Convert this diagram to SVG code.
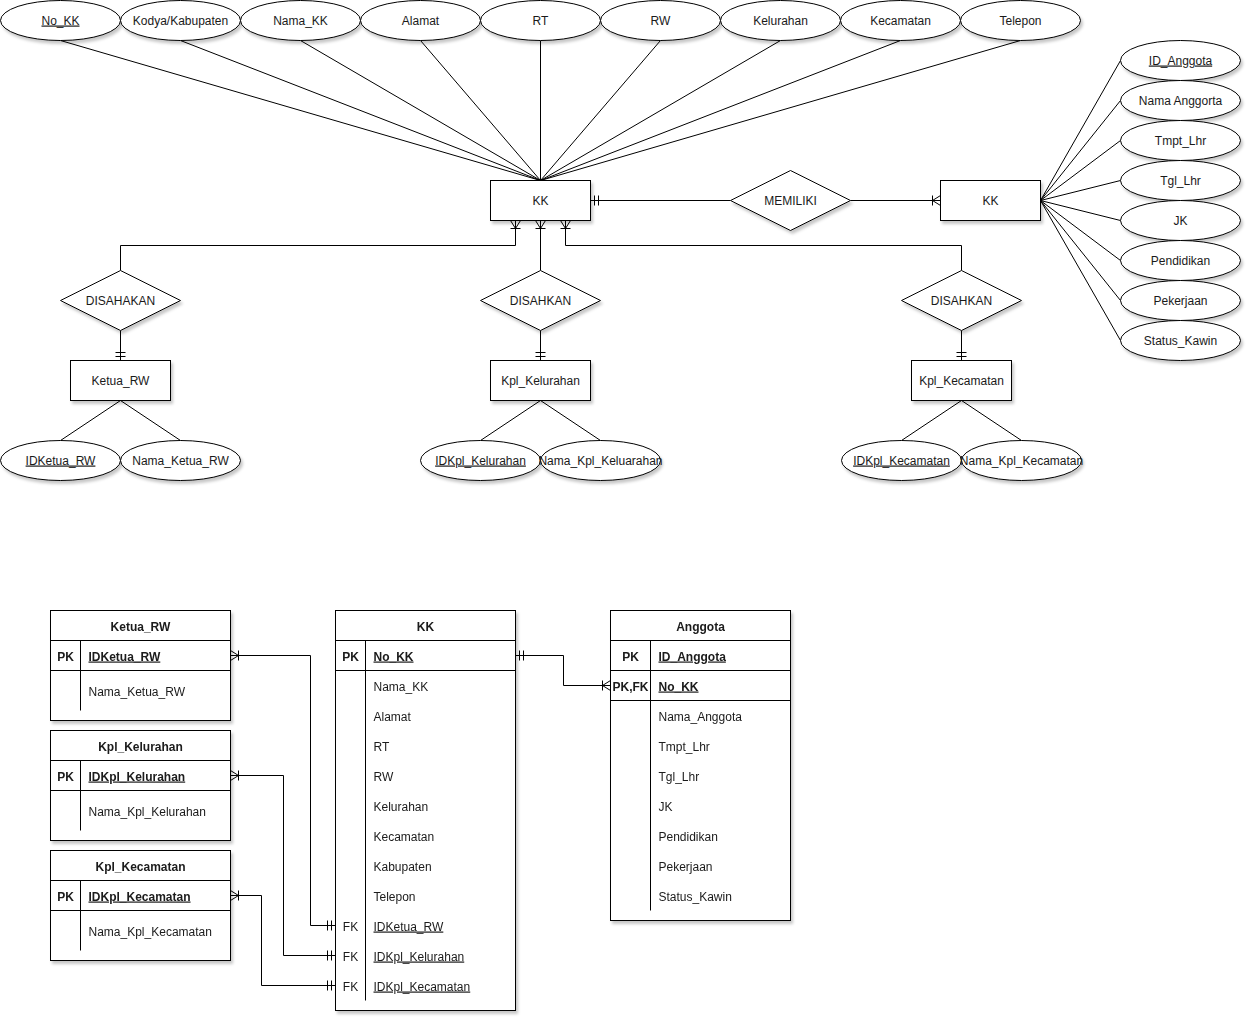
<svg xmlns="http://www.w3.org/2000/svg" width="1252" height="1022" viewBox="0 0 1252 1022">
  <style>
    text { font-family: "Liberation Sans", Arial, sans-serif; font-size: 12px; fill: #1a1a1a; }
    .c { text-anchor: middle; }
    .b { font-weight: bold; }
    .u { text-decoration: underline; }
    .shape { fill: #ffffff; stroke: #000000; stroke-width: 1; filter: url(#sh); }
    .ln { fill: none; stroke: #000000; stroke-width: 1; }
    .tbl { filter: url(#sh); }
    .tbl rect { fill: #ffffff; stroke: #000000; stroke-width: 1; }
    .tbl line { stroke: #000000; stroke-width: 1; }
  </style>
  <defs>
    <filter id="sh" x="-10%" y="-10%" width="130%" height="140%">
      <feDropShadow dx="2" dy="3" stdDeviation="1.4" flood-color="#000000" flood-opacity="0.22"/>
    </filter>
    <!-- crow's foot with a bar: entity side at x=12 -->
    <marker id="oneMany" viewBox="0 0 12 12" markerWidth="12" markerHeight="12" refX="12" refY="6" markerUnits="userSpaceOnUse" orient="auto-start-reverse">
      <path d="M4,6 L12,1 M4,6 L12,11 M4,1 L4,11" fill="none" stroke="#000" stroke-width="1"/>
    </marker>
    <!-- mandatory one: two bars -->
    <marker id="mandOne" viewBox="0 0 12 12" markerWidth="12" markerHeight="12" refX="12" refY="6" markerUnits="userSpaceOnUse" orient="auto-start-reverse">
      <path d="M4,1 L4,11 M8,1 L8,11" fill="none" stroke="#000" stroke-width="1"/>
    </marker>
  </defs>
  <rect width="1252" height="1022" fill="#ffffff"/>

  <g transform="translate(0.5,0.5)">
  <!-- connectors -->
  <g id="connectors">
    <!-- KK attributes (top) -->
    <line class="ln" x1="60" y1="40" x2="540" y2="180"/>
    <line class="ln" x1="180" y1="40" x2="540" y2="180"/>
    <line class="ln" x1="300" y1="40" x2="540" y2="180"/>
    <line class="ln" x1="420" y1="40" x2="540" y2="180"/>
    <line class="ln" x1="540" y1="40" x2="540" y2="180"/>
    <line class="ln" x1="660" y1="40" x2="540" y2="180"/>
    <line class="ln" x1="780" y1="40" x2="540" y2="180"/>
    <line class="ln" x1="900" y1="40" x2="540" y2="180"/>
    <line class="ln" x1="1020" y1="40" x2="540" y2="180"/>
    <!-- member attributes (right) -->
    <line class="ln" x1="1040" y1="200" x2="1120" y2="60"/>
    <line class="ln" x1="1040" y1="200" x2="1120" y2="100"/>
    <line class="ln" x1="1040" y1="200" x2="1120" y2="140"/>
    <line class="ln" x1="1040" y1="200" x2="1120" y2="180"/>
    <line class="ln" x1="1040" y1="200" x2="1120" y2="220"/>
    <line class="ln" x1="1040" y1="200" x2="1120" y2="260"/>
    <line class="ln" x1="1040" y1="200" x2="1120" y2="300"/>
    <line class="ln" x1="1040" y1="200" x2="1120" y2="340"/>
    <!-- MEMILIKI -->
    <path class="ln" d="M590,200 L730,200" marker-start="url(#mandOne)"/>
    <path class="ln" d="M850,200 L940,200" marker-end="url(#oneMany)"/>
    <!-- KK to approval relations -->
    <path class="ln" d="M515,220 L515,245 L120,245 L120,270" marker-start="url(#oneMany)"/>
    <path class="ln" d="M540,220 L540,270" marker-start="url(#oneMany)"/>
    <path class="ln" d="M565,220 L565,245 L961,245 L961,270" marker-start="url(#oneMany)"/>
    <path class="ln" d="M120,330 L120,360" marker-end="url(#mandOne)"/>
    <path class="ln" d="M540,330 L540,360" marker-end="url(#mandOne)"/>
    <path class="ln" d="M961,330 L961,360" marker-end="url(#mandOne)"/>
    <!-- entity attributes (bottom) -->
    <line class="ln" x1="120" y1="400" x2="60" y2="440"/>
    <line class="ln" x1="120" y1="400" x2="180" y2="440"/>
    <line class="ln" x1="540" y1="400" x2="480" y2="440"/>
    <line class="ln" x1="540" y1="400" x2="600" y2="440"/>
    <line class="ln" x1="961" y1="400" x2="901" y2="440"/>
    <line class="ln" x1="961" y1="400" x2="1021" y2="440"/>
    <!-- table relations -->
    <path class="ln" d="M230,655 L310,655 L310,925 L335,925" marker-start="url(#oneMany)" marker-end="url(#mandOne)"/>
    <path class="ln" d="M230,775 L283,775 L283,955 L335,955" marker-start="url(#oneMany)" marker-end="url(#mandOne)"/>
    <path class="ln" d="M230,895 L261,895 L261,985 L335,985" marker-start="url(#oneMany)" marker-end="url(#mandOne)"/>
    <path class="ln" d="M515,655 L563,655 L563,685 L610,685" marker-start="url(#mandOne)" marker-end="url(#oneMany)"/>
  </g>

  <!-- KK attribute ellipses -->
  <g id="attr-no-kk"><ellipse class="shape" cx="60" cy="20" rx="60" ry="20"/><text class="c u" x="60" y="24">No_KK</text></g>
  <g id="attr-kodya"><ellipse class="shape" cx="180" cy="20" rx="60" ry="20"/><text class="c" x="180" y="24">Kodya/Kabupaten</text></g>
  <g id="attr-nama-kk"><ellipse class="shape" cx="300" cy="20" rx="60" ry="20"/><text class="c" x="300" y="24">Nama_KK</text></g>
  <g id="attr-alamat"><ellipse class="shape" cx="420" cy="20" rx="60" ry="20"/><text class="c" x="420" y="24">Alamat</text></g>
  <g id="attr-rt"><ellipse class="shape" cx="540" cy="20" rx="60" ry="20"/><text class="c" x="540" y="24">RT</text></g>
  <g id="attr-rw"><ellipse class="shape" cx="660" cy="20" rx="60" ry="20"/><text class="c" x="660" y="24">RW</text></g>
  <g id="attr-kelurahan"><ellipse class="shape" cx="780" cy="20" rx="60" ry="20"/><text class="c" x="780" y="24">Kelurahan</text></g>
  <g id="attr-kecamatan"><ellipse class="shape" cx="900" cy="20" rx="60" ry="20"/><text class="c" x="900" y="24">Kecamatan</text></g>
  <g id="attr-telepon"><ellipse class="shape" cx="1020" cy="20" rx="60" ry="20"/><text class="c" x="1020" y="24">Telepon</text></g>

  <!-- entities and relations -->
  <g id="ent-kk"><rect class="shape" x="490" y="180" width="100" height="40"/><text class="c" x="540" y="204">KK</text></g>
  <g id="rel-memiliki"><polygon class="shape" points="730,200 790,170 850,200 790,230"/><text class="c" x="790" y="204">MEMILIKI</text></g>
  <g id="ent-kk-anggota"><rect class="shape" x="940" y="180" width="100" height="40"/><text class="c" x="990" y="204">KK</text></g>

  <!-- member attribute ellipses -->
  <g id="attr-id-anggota"><ellipse class="shape" cx="1180" cy="60" rx="60" ry="20"/><text class="c u" x="1180" y="64">ID_Anggota</text></g>
  <g id="attr-nama-anggota"><ellipse class="shape" cx="1180" cy="100" rx="60" ry="20"/><text class="c" x="1180" y="104">Nama Anggorta</text></g>
  <g id="attr-tmpt-lhr"><ellipse class="shape" cx="1180" cy="140" rx="60" ry="20"/><text class="c" x="1180" y="144">Tmpt_Lhr</text></g>
  <g id="attr-tgl-lhr"><ellipse class="shape" cx="1180" cy="180" rx="60" ry="20"/><text class="c" x="1180" y="184">Tgl_Lhr</text></g>
  <g id="attr-jk"><ellipse class="shape" cx="1180" cy="220" rx="60" ry="20"/><text class="c" x="1180" y="224">JK</text></g>
  <g id="attr-pendidikan"><ellipse class="shape" cx="1180" cy="260" rx="60" ry="20"/><text class="c" x="1180" y="264">Pendidikan</text></g>
  <g id="attr-pekerjaan"><ellipse class="shape" cx="1180" cy="300" rx="60" ry="20"/><text class="c" x="1180" y="304">Pekerjaan</text></g>
  <g id="attr-status-kawin"><ellipse class="shape" cx="1180" cy="340" rx="60" ry="20"/><text class="c" x="1180" y="344">Status_Kawin</text></g>

  <!-- approval relations -->
  <g id="rel-disahakan"><polygon class="shape" points="60,300 120,270 180,300 120,330"/><text class="c" x="120" y="304">DISAHAKAN</text></g>
  <g id="rel-disahkan-kel"><polygon class="shape" points="480,300 540,270 600,300 540,330"/><text class="c" x="540" y="304">DISAHKAN</text></g>
  <g id="rel-disahkan-kec"><polygon class="shape" points="901,300 961,270 1021,300 961,330"/><text class="c" x="961" y="304">DISAHKAN</text></g>

  <g id="ent-ketua-rw"><rect class="shape" x="70" y="360" width="100" height="40"/><text class="c" x="120" y="384">Ketua_RW</text></g>
  <g id="ent-kpl-kelurahan"><rect class="shape" x="490" y="360" width="100" height="40"/><text class="c" x="540" y="384">Kpl_Kelurahan</text></g>
  <g id="ent-kpl-kecamatan"><rect class="shape" x="911" y="360" width="100" height="40"/><text class="c" x="961" y="384">Kpl_Kecamatan</text></g>

  <g id="attr-idketua-rw"><ellipse class="shape" cx="60" cy="460" rx="60" ry="20"/><text class="c u" x="60" y="464">IDKetua_RW</text></g>
  <g id="attr-nama-ketua-rw"><ellipse class="shape" cx="180" cy="460" rx="60" ry="20"/><text class="c" x="180" y="464">Nama_Ketua_RW</text></g>
  <g id="attr-idkpl-kelurahan"><ellipse class="shape" cx="480" cy="460" rx="60" ry="20"/><text class="c u" x="480" y="464">IDKpl_Kelurahan</text></g>
  <g id="attr-nama-kpl-kelurahan"><ellipse class="shape" cx="600" cy="460" rx="60" ry="20"/><text class="c" x="600" y="464">Nama_Kpl_Keluarahan</text></g>
  <g id="attr-idkpl-kecamatan"><ellipse class="shape" cx="901" cy="460" rx="60" ry="20"/><text class="c u" x="901" y="464">IDKpl_Kecamatan</text></g>
  <g id="attr-nama-kpl-kecamatan"><ellipse class="shape" cx="1021" cy="460" rx="60" ry="20"/><text class="c" x="1021" y="464">Nama_Kpl_Kecamatan</text></g>

  <!-- tables -->
  <g id="tbl-ketua-rw" class="tbl">
    <rect x="50" y="610" width="180" height="110"/>
    <line x1="50" y1="640" x2="230" y2="640"/>
    <line x1="50" y1="670" x2="230" y2="670"/>
    <line x1="80" y1="640" x2="80" y2="710"/>
    <text class="c b" x="140" y="630">Ketua_RW</text>
    <text class="c b" x="65" y="660">PK</text>
    <text class="b u" x="88" y="660">IDKetua_RW</text>
    <text x="88" y="695">Nama_Ketua_RW</text>
  </g>

  <g id="tbl-kpl-kelurahan" class="tbl">
    <rect x="50" y="730" width="180" height="110"/>
    <line x1="50" y1="760" x2="230" y2="760"/>
    <line x1="50" y1="790" x2="230" y2="790"/>
    <line x1="80" y1="760" x2="80" y2="830"/>
    <text class="c b" x="140" y="750">Kpl_Kelurahan</text>
    <text class="c b" x="65" y="780">PK</text>
    <text class="b u" x="88" y="780">IDKpl_Kelurahan</text>
    <text x="88" y="815">Nama_Kpl_Kelurahan</text>
  </g>

  <g id="tbl-kpl-kecamatan" class="tbl">
    <rect x="50" y="850" width="180" height="110"/>
    <line x1="50" y1="880" x2="230" y2="880"/>
    <line x1="50" y1="910" x2="230" y2="910"/>
    <line x1="80" y1="880" x2="80" y2="950"/>
    <text class="c b" x="140" y="870">Kpl_Kecamatan</text>
    <text class="c b" x="65" y="900">PK</text>
    <text class="b u" x="88" y="900">IDKpl_Kecamatan</text>
    <text x="88" y="935">Nama_Kpl_Kecamatan</text>
  </g>

  <g id="tbl-kk" class="tbl">
    <rect x="335" y="610" width="180" height="400"/>
    <line x1="335" y1="640" x2="515" y2="640"/>
    <line x1="335" y1="670" x2="515" y2="670"/>
    <line x1="365" y1="640" x2="365" y2="1000"/>
    <text class="c b" x="425" y="630">KK</text>
    <text class="c b" x="350" y="660">PK</text>
    <text class="b u" x="373" y="660">No_KK</text>
    <text x="373" y="690">Nama_KK</text>
    <text x="373" y="720">Alamat</text>
    <text x="373" y="750">RT</text>
    <text x="373" y="780">RW</text>
    <text x="373" y="810">Kelurahan</text>
    <text x="373" y="840">Kecamatan</text>
    <text x="373" y="870">Kabupaten</text>
    <text x="373" y="900">Telepon</text>
    <text class="c" x="350" y="930">FK</text>
    <text class="u" x="373" y="930">IDKetua_RW</text>
    <text class="c" x="350" y="960">FK</text>
    <text class="u" x="373" y="960">IDKpl_Kelurahan</text>
    <text class="c" x="350" y="990">FK</text>
    <text class="u" x="373" y="990">IDKpl_Kecamatan</text>
  </g>

  <g id="tbl-anggota" class="tbl">
    <rect x="610" y="610" width="180" height="310"/>
    <line x1="610" y1="640" x2="790" y2="640"/>
    <line x1="610" y1="670" x2="790" y2="670"/>
    <line x1="610" y1="700" x2="790" y2="700"/>
    <line x1="650" y1="640" x2="650" y2="910"/>
    <text class="c b" x="700" y="630">Anggota</text>
    <text class="c b" x="630" y="660">PK</text>
    <text class="b u" x="658" y="660">ID_Anggota</text>
    <text class="c b" x="630" y="690">PK,FK</text>
    <text class="b u" x="658" y="690">No_KK</text>
    <text x="658" y="720">Nama_Anggota</text>
    <text x="658" y="750">Tmpt_Lhr</text>
    <text x="658" y="780">Tgl_Lhr</text>
    <text x="658" y="810">JK</text>
    <text x="658" y="840">Pendidikan</text>
    <text x="658" y="870">Pekerjaan</text>
    <text x="658" y="900">Status_Kawin</text>
  </g>
  </g>
</svg>
